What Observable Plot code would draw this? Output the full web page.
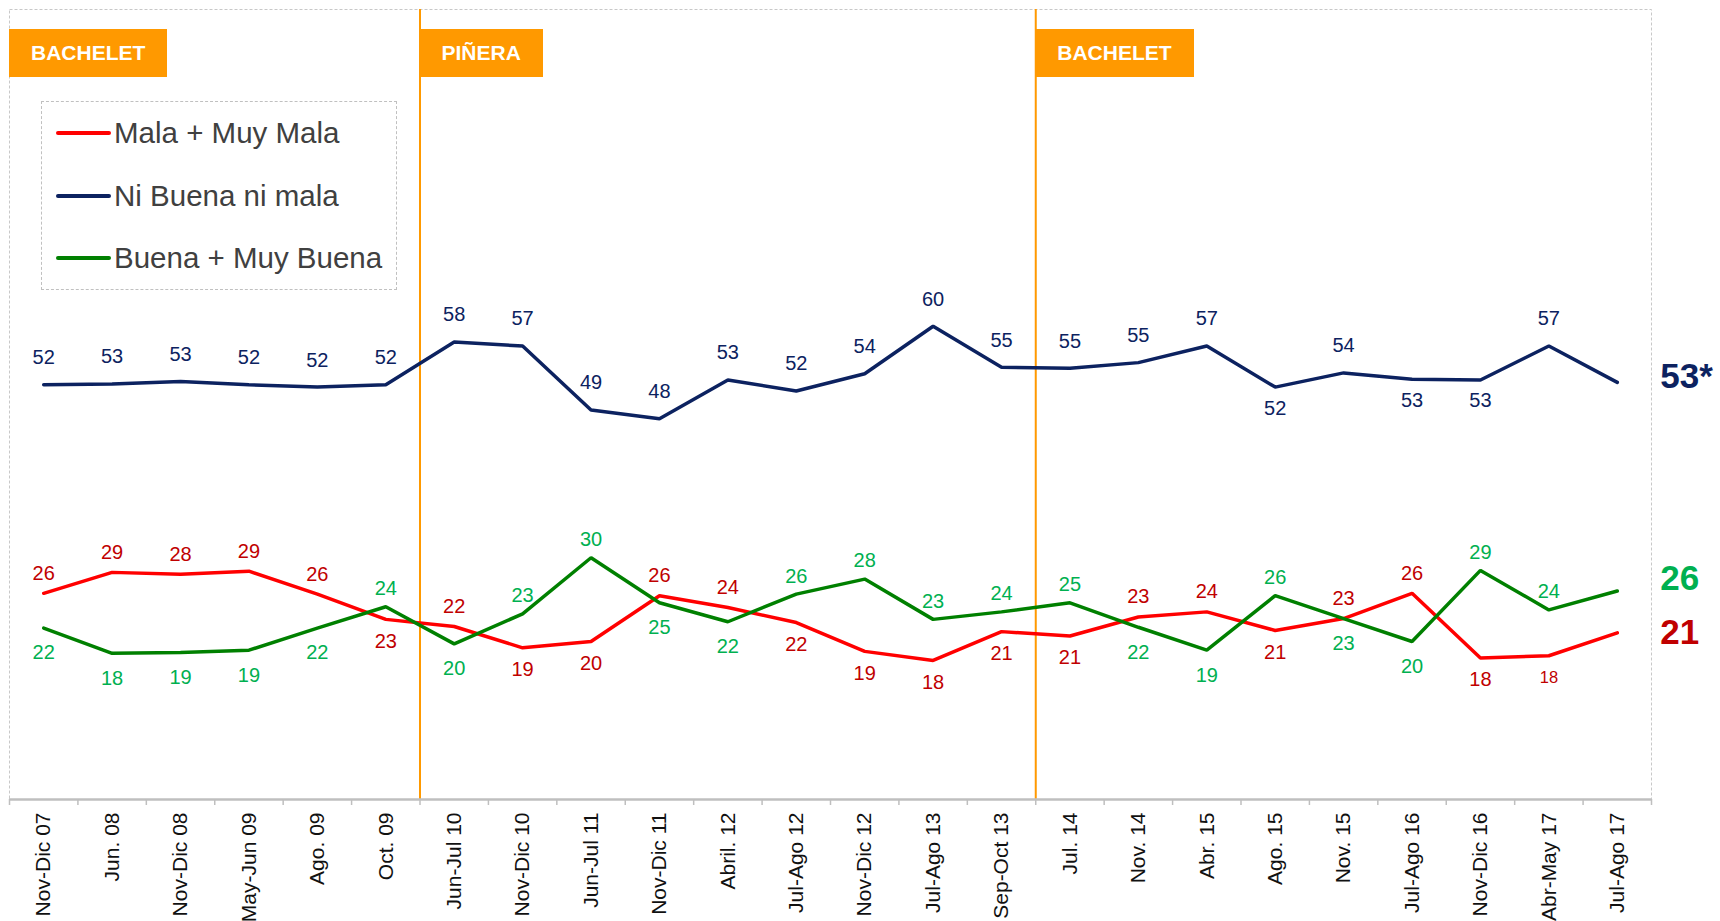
<!DOCTYPE html>
<html><head><meta charset="utf-8">
<script src="https://cdn.jsdelivr.net/npm/d3@7"></script>
<script src="https://cdn.jsdelivr.net/npm/@observablehq/plot@0.6"></script>
<style>
body{margin:0;background:#fff;font-family:"Liberation Sans",Arial,sans-serif;}
#wrap{position:relative;width:1720px;height:921px;overflow:hidden;}
.period{position:absolute;top:29px;height:48px;line-height:48px;padding:0 22px;background:#FF9900;color:#fff;font-weight:bold;font-size:21px;white-space:nowrap;}
.legend{position:absolute;left:41px;top:101px;width:354px;height:187px;border:1px dashed #c0c0c0;background:#fff;}
.item{position:absolute;left:0;height:40px;}
.item .sw{position:absolute;left:14px;top:18px;width:55px;height:4px;border-radius:2px;}
.item .tx{position:absolute;left:72px;top:0;line-height:40px;font-size:29.5px;color:#404040;white-space:nowrap;}
</style></head><body><div id="wrap"></div>
<script>
const categories = ["Nov-Dic 07","Jun. 08","Nov-Dic 08","May-Jun 09","Ago. 09","Oct. 09","Jun-Jul 10","Nov-Dic 10","Jun-Jul 11","Nov-Dic 11","Abril. 12","Jul-Ago 12","Nov-Dic 12","Jul-Ago 13","Sep-Oct 13","Jul. 14","Nov. 14","Abr. 15","Ago. 15","Nov. 15","Jul-Ago 16","Nov-Dic 16","Abr-May 17","Jul-Ago 17"];

const niBuena       = [52.5,52.6,52.9,52.5,52.2,52.5,57.9,57.4,49.3,48.2,53.1,51.7,53.9,59.9,54.7,54.6,55.3,57.4,52.2,54.0,53.2,53.1,57.4,52.8];
const niBuenaLabels = [52,53,53,52,52,52,58,57,49,48,53,52,54,60,55,55,55,57,52,54,53,53,57,null];
const mala          = [26.1,28.75,28.5,28.9,26.0,22.8,21.9,19.2,20.0,25.8,24.3,22.4,18.75,17.6,21.25,20.7,23.1,23.75,21.4,22.9,26.1,17.9,18.2,21.1];
const malaLabels    = [26,29,28,29,26,23,22,19,20,26,24,22,19,18,21,21,23,24,21,23,26,18,18,null];
const buena         = [21.7,18.5,18.6,18.9,21.7,24.4,19.7,23.5,30.6,24.9,22.5,26.0,27.9,22.8,23.75,24.9,21.8,18.9,25.8,22.9,20.0,29.0,24.0,26.4];
const buenaLabels   = [22,18,19,19,22,24,20,23,30,25,22,26,28,23,24,25,22,19,26,23,20,29,24,null];

const seriesNames = ["Mala + Muy Mala","Ni Buena ni mala","Buena + Muy Buena"];
const endLabels   = ["21","53*","26"];
const niBuenaBelow = ["Ago. 15","Jul-Ago 16","Nov-Dic 16"];
const smallLabel = {s:"mala", cat:"Abr-May 17"};

const periods      = ["BACHELET","PIÑERA","BACHELET"];
const periodStarts = ["Nov-Dic 07","Jun-Jul 10","Jul. 14"];

const series = [
  {key:"mala", values:mala, labels:malaLabels, line:"#FF0000", text:"#C00000", up:-20, down:22, endDy:0},
  {key:"ni", values:niBuena, labels:niBuenaLabels, line:"#0C2260", text:"#0C2260", up:-27, down:21, endDy:-6},
  {key:"buena", values:buena, labels:buenaLabels, line:"#008000", text:"#00B050", up:-18, down:25, endDy:-12}
];
const rows = series.flatMap(s => s.values.map((v, i) => ({s: s.key, i, v, label: s.labels[i],
  fs: (s.key === smallLabel.s && categories[i] === smallLabel.cat) ? 16.5 : 20})));
function isAbove(d) {
  if (d.s === "ni") return !niBuenaBelow.includes(categories[d.i]);
  if (d.s === "mala") return mala[d.i] >= buena[d.i];
  return buena[d.i] > mala[d.i];
}
const n = categories.length;
const last = n - 1;
const boundaries = d3.range(n + 1).map(i => i - 0.5);
const startIdx = periodStarts.map(c => categories.indexOf(c));

const marks = [
  Plot.frame({stroke:"#c8c8c8", strokeDasharray:"3,2"}),
  Plot.ruleX(startIdx.slice(1).map(i => i - 0.5), {stroke:"#FF9900", strokeWidth:2}),
  Plot.ruleY([0], {stroke:"#bfbfbf", strokeWidth:2.5}),
  Plot.axisX(boundaries, {tickFormat: () => "", tickSize:6, stroke:"#bfbfbf", strokeWidth:1.5, label:null}),
  Plot.axisX(d3.range(n), {tickFormat: i => categories[i], tickSize:0, tickPadding:13, tickRotate:-90, fontSize:21, fill:"#111", label:null})
];
for (const s of series) {
  const rs = rows.filter(d => d.s === s.key);
  marks.push(Plot.line(rs, {x:"i", y:"v", stroke:s.line, strokeWidth:3.5, strokeLinejoin:"miter"}));
  const lab = rs.filter(d => d.label != null);
  marks.push(Plot.text(lab.filter(isAbove), {x:"i", y:"v", text:"label", fill:s.text, fontSize:d => d.fs, dy:s.up}));
  marks.push(Plot.text(lab.filter(d => !isAbove(d)), {x:"i", y:"v", text:"label", fill:s.text, fontSize:d => d.fs, dy:s.down}));
}
const ends = series.map((s, k) => ({i:last, v:s.values[last], t:endLabels[k], c:s.text, dy:s.endDy}));
for (const e of ends) {
  marks.push(Plot.text([e], {x:"i", y:"v", text:"t", fill:e.c, dx:43, dy:e.dy, textAnchor:"start", fontSize:35, fontWeight:"bold"}));
}

const plot = Plot.plot({
  width:1720, height:921,
  marginTop:9, marginBottom:122, marginLeft:9, marginRight:69,
  style:{fontFamily:"'Liberation Sans', Arial, sans-serif", background:"transparent", overflow:"visible"},
  x:{type:"linear", domain:[-0.5, n - 0.5], axis:null, label:null},
  y:{domain:[0,100], axis:null, label:null},
  marks
});
const wrap = document.getElementById("wrap");
wrap.appendChild(plot);

const xs = plot.scale("x");
periods.forEach((p, k) => {
  const div = document.createElement("div");
  div.className = "period";
  div.textContent = p;
  div.style.left = xs.apply(startIdx[k] - 0.5) + "px";
  wrap.appendChild(div);
});

const leg = document.createElement("div");
leg.className = "legend";
series.forEach((s, k) => {
  const it = document.createElement("div");
  it.className = "item";
  it.style.top = (11 + k * 62.5) + "px";
  it.innerHTML = `<div class="sw" style="background:${s.line}"></div><div class="tx">${seriesNames[k]}</div>`;
  leg.appendChild(it);
});
wrap.appendChild(leg);
</script>
</body></html>
